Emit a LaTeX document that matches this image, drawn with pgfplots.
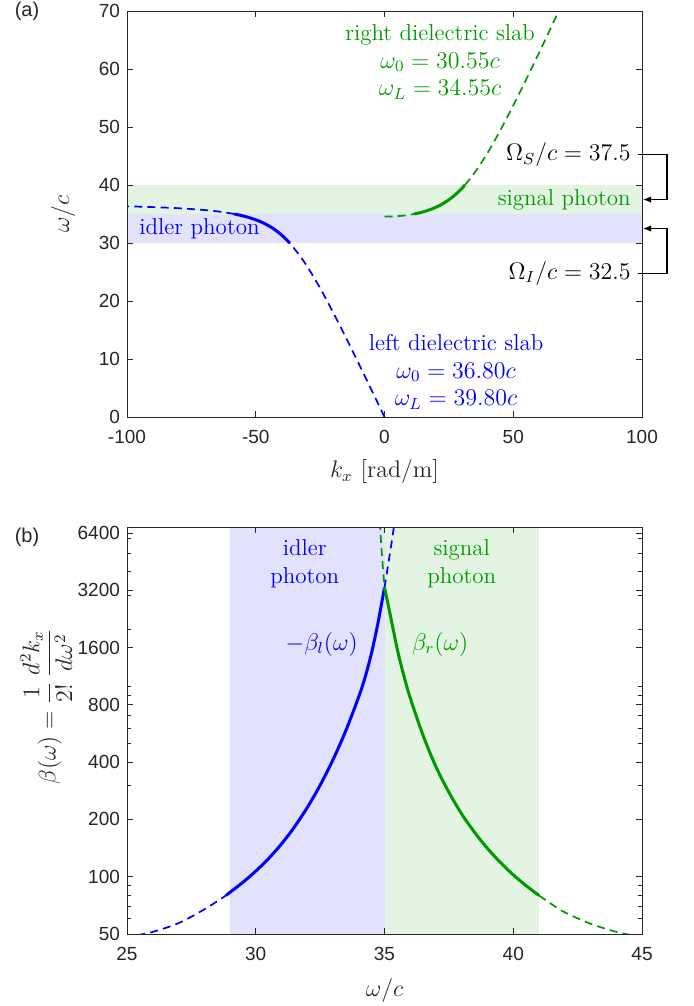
\documentclass[border=0pt]{standalone}
\usepackage{fontspec}
\usepackage{pgfplots}
\pgfplotsset{compat=1.18}
\usetikzlibrary{arrows.meta}
\newfontfamily\arial{Liberation Sans}
\definecolor{lblue}{RGB}{0,0,255}
\definecolor{lgreen}{RGB}{0,153,0}
\definecolor{bandblue}{RGB}{226,226,252}
\definecolor{bandgreen}{RGB}{227,244,226}
\definecolor{axgray}{RGB}{38,38,38}
\tikzset{
  solidl/.style={line width=1.5pt, smooth},
  dashl/.style={line width=0.85pt, dash pattern=on 4pt off 2.6pt, smooth},
  txt/.style={font=\fontsize{11.5}{13.8}\selectfont, inner sep=1pt}
}
\pgfplotsset{
  myax/.style={scale only axis, width=257.5pt, axis on top, clip mode=individual,
    axis line style={axgray, line width=0.45pt},
    every tick/.style={axgray, line width=0.45pt},
    major tick length=3pt, minor tick length=1.8pt, tick align=inside,
    ticklabel style={font=\arial\fontsize{9.5}{11}\selectfont, text=axgray},
    xticklabel style={yshift=-3pt},
    label style={font=\fontsize{12}{14}\selectfont, text=axgray},
    /pgf/number format/assume math mode=true}
}
\begin{document}
\begin{tikzpicture}
\useasboundingbox (0,0) rectangle (346.5pt,-503pt);
% ---------------- panel (a) ----------------
\begin{axis}[myax, at={(63.5pt,-208.5pt)}, anchor=south west, height=203pt,
  xmin=-100, xmax=100, ymin=0, ymax=70,
  xtick={-100,-50,0,50,100}, xticklabels={-100,-50,0,50,100},
  ytick={0,10,20,30,40,50,60,70}, yticklabels={0,10,20,30,40,50,60,70},
  xlabel={$k_x$ [rad/m]}, ylabel={$\omega/c$},
  xlabel style={at={(axis description cs:0.5,-0.135)}, anchor=center},
  ylabel style={at={(axis description cs:-0.124,0.5)}, anchor=center}]
\addplot[draw=none, fill=bandgreen] coordinates {(-100,35) (100,35) (100,40) (-100,40)} -- cycle;
\addplot[draw=none, fill=bandblue] coordinates {(-100,30) (100,30) (100,35) (-100,35)} -- cycle;
% left slab (blue)
\addplot[lblue, dashl] coordinates {(0,0) (-5.415,5) (-10.88,10) (-16.46,15) (-22.28,20) (-25.37,22.5) (-28.67,25) (-32.36,27.5) (-36.81,30)};
\addplot[lblue, solidl] coordinates {(-36.81,30) (-37.87,30.5) (-39.02,31) (-40.28,31.5) (-41.67,32) (-43.25,32.5) (-45.08,33) (-47.26,33.5) (-49.96,34) (-53.46,34.5) (-55.67,34.75) (-58.33,35)};
\addplot[lblue, dashl] coordinates {(-58.33,35) (-61.64,35.25) (-65.89,35.5) (-71.65,35.75) (-80.06,36) (-84.69,36.1) (-90.48,36.2) (-93.97,36.25) (-97.99,36.3) (-100,36.32)};
% right slab (green)
\addplot[lgreen, dashl] coordinates {(0,34.55) (2.807,34.575) (3.961,34.6) (5.575,34.65) (6.796,34.7) (8.695,34.8) (10.197,34.9) (11.47,35)};
\addplot[lgreen, solidl] coordinates {(11.47,35) (14.01,35.25) (16.02,35.5) (19.12,36) (21.51,36.5) (23.47,37) (25.14,37.5) (26.60,38) (27.91,38.5) (29.10,39) (30.20,39.5) (31.23,40)};
\addplot[lgreen, dashl] coordinates {(31.23,40) (34.80,42) (39.27,45) (42.57,47.5) (45.66,50) (51.46,55) (57.0,60) (62.38,65) (67.66,70)};
% annotations
\node[txt, lgreen, align=center] at (axis cs:21.6,61.2) {right dielectric slab\\ $\omega_0=30.55c$\\ $\omega_L=34.55c$};
\node[txt, lblue, align=center] at (axis cs:27.8,7.8) {left dielectric slab\\ $\omega_0=36.80c$\\ $\omega_L=39.80c$};
\node[txt, lblue, anchor=west] at (axis cs:-96.1,32.4) {idler photon};
\node[txt, lgreen, anchor=east] at (axis cs:96.5,37.4) {signal photon};
\node[txt, anchor=east] at (axis cs:96.5,45.2) {$\Omega_S/c=37.5$};
\node[txt, anchor=east] at (axis cs:96.5,24.8) {$\Omega_I/c=32.5$};
\draw[line width=0.6pt, -{Latex[length=4pt,width=3.2pt]}] (axis cs:98.6,45.2) -- (axis cs:109.7,45.2) -- (axis cs:109.7,37.5) -- (axis cs:100.4,37.5);
\draw[line width=0.6pt, -{Latex[length=4pt,width=3.2pt]}] (axis cs:98.6,24.8) -- (axis cs:109.7,24.8) -- (axis cs:109.7,32.5) -- (axis cs:100.4,32.5);
\end{axis}
\node[font=\arial\fontsize{10}{12}\selectfont, text=axgray] at (13.5pt,-5.5pt) {(a)};
% ---------------- panel (b) ----------------
\begin{axis}[myax, at={(63.5pt,-467pt)}, anchor=south west, height=203.3pt,
  xmin=25, xmax=45, ymode=log, ymin=50, ymax=6850,
  xtick={25,30,35,40,45}, xticklabels={25,30,35,40,45},
  ytick={50,100,200,400,800,1600,3200,6400}, yticklabels={50,100,200,400,800,1600,3200,6400},
  minor ytick={60,70,80,90,300,500,600,700,900,1000,2000,3000,4000,5000,6000},
  xlabel={$\omega/c$}, ylabel={$\beta(\omega)=\displaystyle\frac{1}{2!}\,\frac{d^2k_x}{d\omega^2}$},
  xlabel style={at={(axis description cs:0.5,-0.14)}, anchor=center},
  ylabel style={at={(axis description cs:-0.157,0.56)}, anchor=center}]
\addplot[draw=none, fill=bandblue] coordinates {(29,40) (35,40) (35,9000) (29,9000)} -- cycle;
\addplot[draw=none, fill=bandgreen] coordinates {(35,40) (41,40) (41,9000) (35,9000)} -- cycle;
% blue: -beta_l
\addplot[lblue, dashl] coordinates {(25.4,49.3) (26,51.3) (27,57.0) (28,67.3) (28.85,79.8)};
\addplot[lblue, solidl] coordinates {(28.85,79.8) (29,82.8) (29.5,93.4) (30,107) (30.5,124.6) (31,148.7) (31.5,182.4) (32,230.9) (32.5,302.5) (33,411.9) (33.5,586.5) (34,883) (34.25,1121) (34.5,1505) (34.75,2166) (35,3312)};
\addplot[lblue, dashl] coordinates {(35,3312) (35.2,4890) (35.35,6670) (35.45,8445)};
% green: beta_r
\addplot[lgreen, dashl] coordinates {(34.76,8600) (34.83,6766) (34.915,4620) (35,3312)};
\addplot[lgreen, solidl] coordinates {(35,3312) (35.25,2283) (35.5,1560) (35.75,1139) (36,870) (36.5,552) (37,378) (37.5,278) (38,213.3) (38.5,170.9) (39,140.7) (39.5,118.8) (40,102.3) (40.5,89.7) (41,79.7)};
\addplot[lgreen, dashl] coordinates {(41,79.7) (41.5,71.6) (42,65.0) (43,56.6) (44,51.3) (44.6,49.3)};
\node[txt, lblue, align=center] at (axis cs:31.9,4420) {idler\\photon};
\node[txt, lgreen, align=center] at (axis cs:38.0,4420) {signal\\photon};
\node[txt, lblue] at (axis cs:32.56,1669) {$-\beta_l(\omega)$};
\node[txt, lgreen] at (axis cs:37.16,1669) {$\beta_r(\omega)$};
\end{axis}
\node[font=\arial\fontsize{10}{12}\selectfont, text=axgray] at (13.5pt,-268.5pt) {(b)};
\end{tikzpicture}
\end{document}
